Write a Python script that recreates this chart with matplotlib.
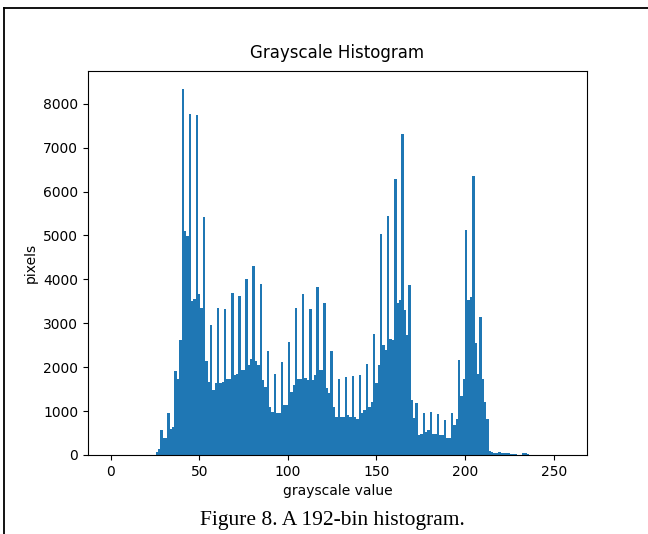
import numpy as np
import matplotlib
matplotlib.use("Agg")
import matplotlib.pyplot as plt
from matplotlib.lines import Line2D


# histogram settings (192 bins over 0..256)
n_bins = 192
value_range = (0, 256)

# pixel counts per bin, bin 0 .. bin 191
bin_counts = [
    0, 0, 0, 0, 0, 0, 0, 0, 0, 0,
    0, 0, 0, 0, 0, 0, 0, 0, 0, 60,
    130, 568, 379, 390, 962, 583, 629, 1909, 1742, 2614,
    8330, 5110, 4990, 7765, 3508, 3561, 7742, 3659, 3348, 5432,
    2144, 1667, 2970, 1470, 1629, 3350, 1648, 1667, 3330, 1742,
    1742, 3689, 1815, 1850, 3614, 1932, 1932, 4015, 2045, 2197,
    4303, 2140, 2045, 3902, 1705, 1538, 2364, 1083, 985, 1841,
    962, 962, 2121, 1130, 1136, 2576, 1439, 1591, 3356, 1720,
    1742, 3659, 1758, 1705, 3333, 1705, 1818, 3826, 1932, 1932,
    3470, 1515, 1402, 2364, 1083, 871, 1742, 871, 871, 1785,
    909, 871, 1790, 871, 815, 1818, 962, 1035, 2083, 1083,
    1212, 2765, 1648, 2045, 5023, 2500, 2402, 5439, 2652, 2629,
    6288, 3462, 3538, 7311, 3295, 2727, 3879, 1250, 848, 1174,
    455, 470, 962, 520, 560, 975, 485, 485, 935, 445,
    445, 795, 390, 390, 955, 675, 811, 2174, 1341, 1720,
    5114, 3523, 3598, 6345, 2553, 1841, 3135, 1720, 1200, 815,
    90, 70, 55, 50, 60, 55, 40, 40, 35, 30,
    25, 15, 10, 10, 35, 35, 30, 5, 0, 0,
    0, 0, 0, 0, 0, 0, 0, 0, 0, 0,
    0, 0,
]

title_text = "Grayscale Histogram"
x_label = "grayscale value"
y_label = "pixels"
caption_text = "Figure 8. A 192-bin histogram."


def main():
    W, H = 648, 534
    fig = plt.figure(figsize=(W / 100, H / 100), dpi=100)

    # axes box in pixels: left 88, right 587, top 71, bottom 455
    ax = fig.add_axes([88 / W, (H - 455) / H, 499 / W, 384 / H])

    edges = np.linspace(value_range[0], value_range[1], n_bins + 1)
    ax.hist(edges[:-1], bins=edges, weights=bin_counts)

    ax.set_title(title_text, pad=9)
    ax.set_xlabel(x_label)
    ax.set_ylabel(y_label)

    # page frame (top and left edges of the surrounding box)
    fig.add_artist(Line2D([4 / W, 1.0], [1 - 8 / H, 1 - 8 / H], color="k", lw=1.3))
    fig.add_artist(Line2D([4 / W, 4 / W], [0.0, 1 - 8 / H], color="k", lw=1.3))

    fig.text(332 / W, 1 - 520 / H, caption_text, ha="center", va="center",
             family="Liberation Serif", fontsize=15.5)

    fig.savefig("out.png", dpi=100)


if __name__ == "__main__":
    main()
